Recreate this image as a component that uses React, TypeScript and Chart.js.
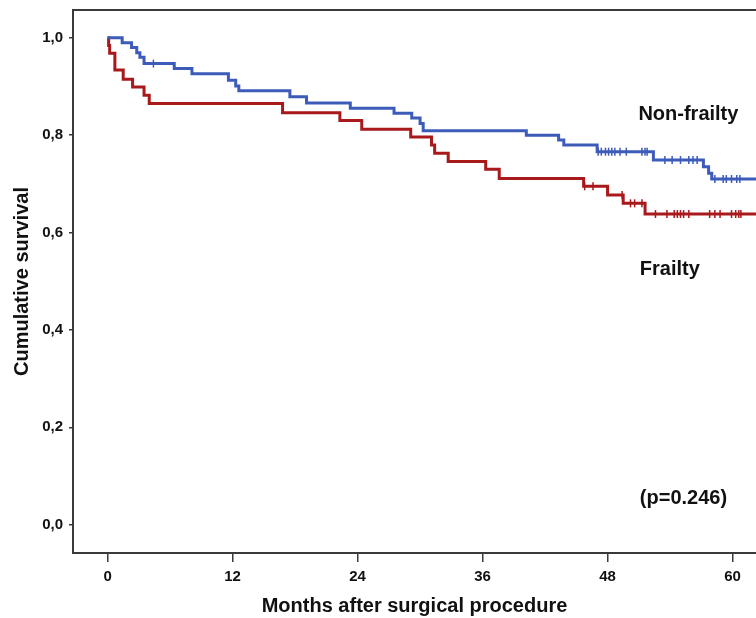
import React, { useEffect, useRef } from 'react';
import { Chart, registerables } from 'chart.js';

Chart.register(...registerables);

// ---- axis ranges and ticks ----
const X_MIN = -3.32;
const X_MAX = 62.25;
const Y_MIN = -0.058;
const Y_MAX = 1.057;
const xTickValues = [0, 12, 24, 36, 48, 60];
const yTickValues = [0, 0.2, 0.4, 0.6, 0.8, 1.0];

// ---- Non-frailty (blue) ----
const nonFrailtyTimes = [0, 1.4, 2.3, 2.8, 3.1, 3.5, 6.4, 8.1, 11.6, 12.3, 12.6, 17.5, 19.1, 23.3, 27.5, 29.2, 30.0, 30.3, 40.2, 43.3, 43.8, 47.0, 52.4, 57.2, 57.7, 58.0];
const nonFrailtySurv = [1.0, 0.99, 0.98, 0.969, 0.96, 0.947, 0.937, 0.926, 0.913, 0.901, 0.891, 0.879, 0.866, 0.855, 0.845, 0.835, 0.824, 0.809, 0.8, 0.79, 0.78, 0.766, 0.749, 0.735, 0.722, 0.71];
const nonFrailtyCensored = [4.4, 47.1, 47.4, 47.8, 48.1, 48.4, 48.7, 49.2, 49.8, 51.3, 51.6, 51.8, 53.5, 54.2, 55.0, 55.8, 56.2, 56.6, 58.3, 59.1, 59.4, 59.9, 60.4, 60.7];

// ---- Frailty (red) ----
const frailtyTimes = [0, 0.1, 0.2, 0.7, 1.5, 2.4, 3.5, 4.0, 16.8, 22.3, 24.4, 29.1, 31.1, 31.4, 32.7, 36.3, 37.6, 45.7, 48.0, 49.5, 51.6];
const frailtySurv = [1.0, 0.984, 0.968, 0.934, 0.915, 0.899, 0.882, 0.865, 0.846, 0.83, 0.812, 0.796, 0.78, 0.763, 0.746, 0.73, 0.711, 0.695, 0.677, 0.66, 0.638];
const frailtyCensored = [45.8, 46.6, 49.4, 50.2, 50.6, 51.3, 52.6, 53.7, 54.4, 54.7, 55.0, 55.3, 55.8, 57.8, 58.3, 58.8, 59.9, 60.3, 60.6, 60.8];

// ---- text annotations (data coordinates) ----
const annotationTexts = ['Non-frailty', 'Frailty', '(p=0.246)'];
const annotationX = [50.96, 51.1, 51.1];
const annotationY = [0.831, 0.513, 0.043];

const BLUE = '#3d5cba';
const RED = '#a8191c';
const AXIS = '#3a3a3a';
const FONT = '"Liberation Sans", Arial, sans-serif';

function stepPoints(times: number[], surv: number[]) {
  const pts = times.map((t, i) => ({ x: t, y: surv[i] }));
  pts.push({ x: X_MAX, y: surv[surv.length - 1] });
  return pts;
}

function survAt(times: number[], surv: number[], t: number) {
  let s = surv[0];
  for (let i = 0; i < times.length; i++) {
    if (times[i] <= t) s = surv[i];
  }
  return s;
}

function censorPoints(times: number[], surv: number[], cens: number[]) {
  return cens.map((t) => ({ x: t, y: survAt(times, surv, t) }));
}

const framePlugin = {
  id: 'frameAndText',
  afterDraw(chart: any) {
    const { ctx, chartArea, scales } = chart;
    ctx.save();
    ctx.strokeStyle = AXIS;
    ctx.lineWidth = 2;
    ctx.beginPath();
    ctx.moveTo(chartArea.left - 1, chartArea.top);
    ctx.lineTo(chartArea.right, chartArea.top);
    ctx.stroke();
    ctx.fillStyle = '#111';
    ctx.font = `bold 20px ${FONT}`;
    ctx.textAlign = 'left';
    ctx.textBaseline = 'alphabetic';
    annotationTexts.forEach((txt, i) => {
      const px = scales.x.getPixelForValue(annotationX[i]);
      const py = scales.y.getPixelForValue(annotationY[i]);
      ctx.fillText(txt, px, py);
    });
    ctx.restore();
  },
};

export default function App() {
  const canvasRef = useRef<HTMLCanvasElement | null>(null);

  useEffect(() => {
    document.body.style.margin = '0';
    const canvas = canvasRef.current;
    if (!canvas) return;
    const chart = new Chart(canvas, {
      type: 'line',
      data: {
        datasets: [
          {
            label: 'Non-frailty',
            data: stepPoints(nonFrailtyTimes, nonFrailtySurv),
            borderColor: BLUE,
            borderWidth: 3,
            stepped: 'before',
            pointRadius: 0,
            fill: false,
            borderJoinStyle: 'miter',
          },
          {
            label: 'Frailty',
            data: stepPoints(frailtyTimes, frailtySurv),
            borderColor: RED,
            borderWidth: 3,
            stepped: 'before',
            pointRadius: 0,
            fill: false,
            borderJoinStyle: 'miter',
          },
          {
            label: 'Non-frailty censored',
            data: censorPoints(nonFrailtyTimes, nonFrailtySurv, nonFrailtyCensored),
            showLine: false,
            pointStyle: 'line',
            rotation: 90,
            pointRadius: 4,
            pointBorderWidth: 1.5,
            pointBorderColor: BLUE,
            borderColor: BLUE,
          },
          {
            label: 'Frailty censored',
            data: censorPoints(frailtyTimes, frailtySurv, frailtyCensored),
            showLine: false,
            pointStyle: 'line',
            rotation: 90,
            pointRadius: 4,
            pointBorderWidth: 1.5,
            pointBorderColor: RED,
            borderColor: RED,
          },
        ],
      },
      options: {
        animation: false,
        responsive: false,
        devicePixelRatio: 1,
        events: [],
        layout: { autoPadding: false, padding: { top: 10, right: 0, bottom: 0, left: 0 } },
        plugins: { legend: { display: false }, tooltip: { enabled: false } },
        scales: {
          x: {
            type: 'linear',
            min: X_MIN,
            max: X_MAX,
            afterBuildTicks: (scale: any) => {
              scale.ticks = xTickValues.map((v) => ({ value: v }));
            },
            afterFit: (scale: any) => {
              scale.height = 65;
              scale.paddingLeft = 0;
              scale.paddingRight = 0;
              scale.paddingTop = 0;
              scale.paddingBottom = 0;
            },
            grid: { drawOnChartArea: false, drawTicks: true, tickLength: 9, color: AXIS, lineWidth: 1.5 },
            border: { display: true, color: AXIS, width: 2 },
            ticks: {
              padding: 6,
              color: '#111',
              font: { family: FONT, size: 15, weight: 'bold' },
              maxRotation: 0,
              callback: (v: any) => String(v),
            },
            title: {
              display: true,
              text: 'Months after surgical procedure',
              color: '#111',
              font: { family: FONT, size: 20, weight: 'bold' },
              padding: { top: 0, bottom: 0 },
            },
          },
          y: {
            type: 'linear',
            min: Y_MIN,
            max: Y_MAX,
            afterBuildTicks: (scale: any) => {
              scale.ticks = yTickValues.map((v) => ({ value: v }));
            },
            afterFit: (scale: any) => {
              scale.width = 73;
              scale.paddingLeft = 0;
              scale.paddingRight = 0;
              scale.paddingTop = 0;
              scale.paddingBottom = 0;
            },
            grid: { drawOnChartArea: false, drawTicks: true, tickLength: 4, color: AXIS, lineWidth: 1.5 },
            border: { display: true, color: AXIS, width: 2 },
            ticks: {
              padding: 6,
              color: '#111',
              font: { family: FONT, size: 15, weight: 'bold' },
              callback: (v: any) => Number(v).toFixed(1).replace('.', ','),
            },
            title: {
              display: true,
              text: 'Cumulative survival',
              color: '#111',
              font: { family: FONT, size: 20, weight: 'bold' },
              padding: { top: 10, bottom: 0 },
            },
          },
        },
      } as any,
      plugins: [framePlugin],
    });
    return () => chart.destroy();
  }, []);

  return (
    <div style={{ width: 756, height: 618 }}>
      <canvas ref={canvasRef} width={756} height={618} style={{ display: 'block' }} />
    </div>
  );
}
